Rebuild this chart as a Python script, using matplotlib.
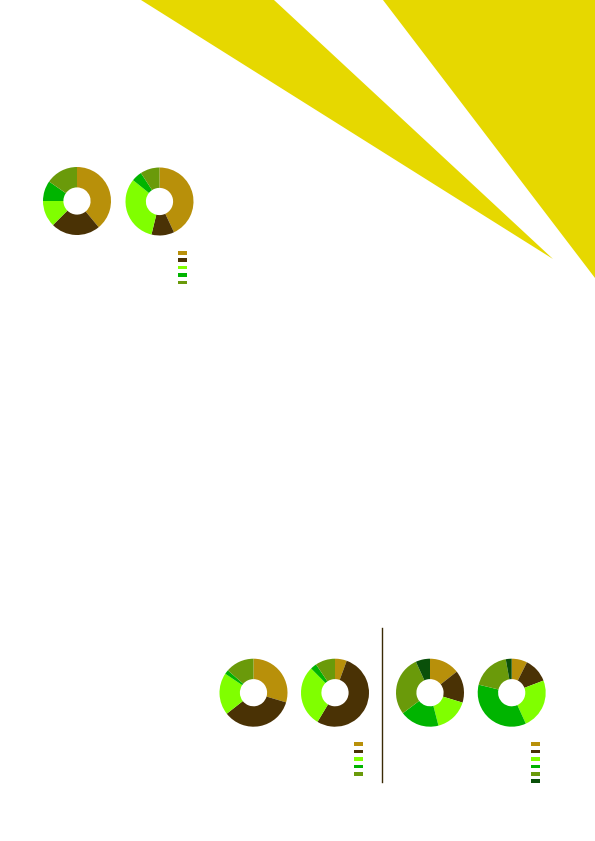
import matplotlib
matplotlib.use("Agg")
import matplotlib.pyplot as plt
from matplotlib.patches import Polygon, Rectangle

W, H = 595, 841

# slice colours (shared across all donuts)
colors = ["#B8900A", "#4A3205", "#80FF00", "#00B400", "#6A9A0A", "#0A500A"]

# donut values (percent, clockwise from 12 o'clock)
top_left = [39.0, 23.5, 12.5, 9.7, 15.3]
top_right = [43.0, 10.8, 32.0, 5.0, 9.2]
mid_left = [29.6, 34.8, 20.0, 2.0, 13.6]
mid_right = [5.6, 53.0, 29.0, 3.0, 9.4]
far_left = [14.4, 15.3, 16.3, 18.7, 28.5, 6.8]
far_right = [7.4, 11.8, 24.0, 35.6, 18.4, 2.8]

donuts = [
    (top_left, (77, 201)),
    (top_right, (159.5, 201.5)),
    (mid_left, (253.5, 692.7)),
    (mid_right, (335, 692.7)),
    (far_left, (430, 692.7)),
    (far_right, (511.7, 692.7)),
]

# legend swatch blocks: (x left, first y centre, number of entries)
legends = [(178, 252.7, 5), (354, 744, 5), (531, 744, 6)]

fig = plt.figure(figsize=(W / 100, H / 100), dpi=100)
fig.patch.set_facecolor("white")

# background layer in pixel coordinates
bg = fig.add_axes([0, 0, 1, 1])
bg.set_xlim(0, W)
bg.set_ylim(H, 0)
bg.axis("off")

yellow = "#E6D800"
bg.add_patch(Polygon([(141, 0), (274, 0), (553, 259)], closed=True,
                     facecolor=yellow, edgecolor="none"))
bg.add_patch(Polygon([(383, 0), (595, 0), (595, 278)], closed=True,
                     facecolor=yellow, edgecolor="none"))

# divider between the lower groups
bg.plot([382.3, 382.3], [628, 782], color="#3A2A05", linewidth=1.0)

# legend swatches
for x0, y0, n in legends:
    for i, c in enumerate(colors[:n]):
        yc = y0 + i * 7.45
        bg.add_patch(Rectangle((x0, yc - 1.8), 9, 3.6, facecolor=c,
                               edgecolor="none"))

R = 34
for vals, (cx, cy) in donuts:
    ax = fig.add_axes([(cx - R) / W, 1 - (cy + R) / H, 2 * R / W, 2 * R / H])
    ax.pie(vals, colors=colors[:len(vals)], startangle=90, counterclock=False,
           wedgeprops=dict(width=0.6, edgecolor="none", linewidth=0))
    ax.set_xlim(-1, 1)
    ax.set_ylim(-1, 1)
    ax.axis("off")

plt.savefig("out.png", dpi=100)
